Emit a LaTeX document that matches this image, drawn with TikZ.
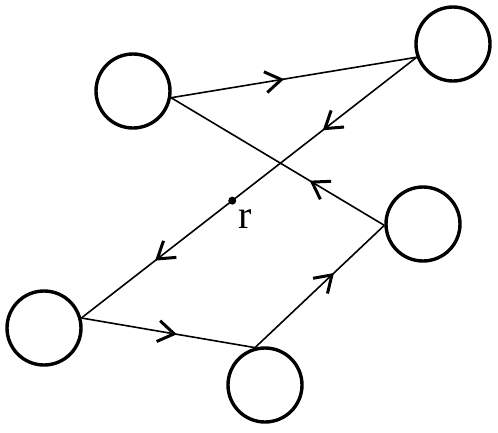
\documentclass[tikz,border=0pt]{standalone}
\usepackage{fontspec}
\setmainfont{Liberation Serif}
\usepackage{tikz}
\usetikzlibrary{arrows.meta}
\usetikzlibrary{decorations.markings}
\usetikzlibrary{positioning}
\tikzstyle{agent} = [circle, draw, line width=3.4pt, minimum size=74pt, inner sep=0pt]
\tikzstyle{line}  = [draw, line width=1.6pt]
\tikzstyle{dot}   = [circle, fill=black, inner sep=0pt, minimum size=8pt]
\tikzset{arrowat/.style={postaction={decorate, decoration={markings,
  mark=at position #1 with {\arrow{Straight Barb[length=16pt,width=21pt,line width=3pt]}}}}}}

\begin{document}
\begin{tikzpicture}[x=1pt, y=-1pt]
	\useasboundingbox (0,0) rectangle (498,432);
	\node [agent] (a) at (133,91) {};
	\node [agent] (b) at (453,44) {};
	\node [agent] (c) at (423,224) {};
	\node [agent] (d) at (44,328) {};
	\node [agent] (e) at (265,385) {};
	\path [line, arrowat=0.46] (a.-10) -- (b.200);
	\path [line, arrowat=0.28, arrowat=0.78] (b.200) -- node [dot, pos=0.55] (r) {} (d.15);
	\path [line, arrowat=0.35] (c.182) -- (a.-10);
	\path [line, arrowat=0.55] (d.15) -- (e.105);
	\path [line, arrowat=0.61] (e.105) -- (c.182);
	\node [below right=5pt and 3pt of r, inner sep=0pt, font=\fontsize{40}{44}\selectfont] (rlabel) {r};
\end{tikzpicture}
\end{document}
